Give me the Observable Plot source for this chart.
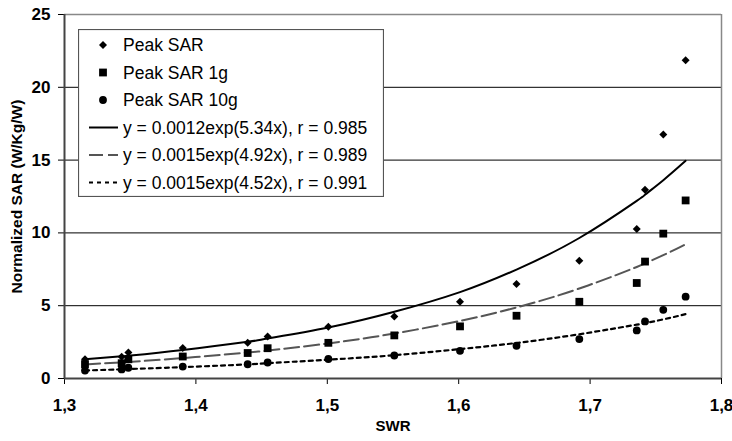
<!DOCTYPE html>
<html>
<head>
<meta charset="utf-8">
<script src="https://cdn.jsdelivr.net/npm/d3@7"></script>
<script src="https://cdn.jsdelivr.net/npm/@observablehq/plot@0.6"></script>
<style>
  html, body { margin: 0; padding: 0; background: white; }
  #wrap { position: relative; width: 732px; height: 441px; }
  #legend { position: absolute; left: 78px; top: 29px; }
</style>
</head>
<body>
<div id="wrap"></div>
<script>
// ---- data ----
const swr      = [1.3156, 1.3435, 1.3486, 1.390, 1.4394, 1.4546, 1.5008, 1.551, 1.601, 1.644, 1.6918, 1.7355, 1.7418, 1.7557, 1.7727];
const peakSAR  = [1.33, 1.50, 1.79, 2.10, 2.45, 2.89, 3.55, 4.26, 5.27, 6.49, 8.08, 10.27, 12.96, 16.75, 21.86];
const peak1g   = [0.99, 1.05, 1.32, 1.51, 1.75, 2.08, 2.45, 2.96, 3.58, 4.31, 5.27, 6.56, 8.03, 9.95, 12.23];
const peak10g  = [0.55, 0.62, 0.74, 0.82, 0.98, 1.10, 1.34, 1.58, 1.90, 2.25, 2.71, 3.30, 3.92, 4.72, 5.62];
// fitted trend curves, read at the same SWR positions
const trendSAR = [1.32, 1.52, 1.56, 1.96, 2.52, 2.74, 3.50, 4.58, 5.93, 7.48, 9.65, 12.20, 12.62, 13.62, 14.95];
const trend1g  = [0.97, 1.11, 1.14, 1.40, 1.79, 1.92, 2.41, 3.09, 3.95, 4.88, 6.18, 7.66, 7.91, 8.47, 9.22];
const trend10g = [0.55, 0.63, 0.65, 0.78, 0.97, 1.05, 1.29, 1.60, 2.02, 2.44, 3.04, 3.70, 3.80, 4.06, 4.42];
const seriesNames = ["Peak SAR", "Peak SAR 1g", "Peak SAR 10g"];
const fitLabels = ["y = 0.0012exp(5.34x), r = 0.985", "y = 0.0015exp(4.92x), r = 0.989", "y = 0.0015exp(4.52x), r = 0.991"];
const xTicks = [1.3, 1.4, 1.5, 1.6, 1.7, 1.8];
const yTicks = [0, 5, 10, 15, 20, 25];
const xTitle = "SWR";
const yTitle = "Normalized SAR (W/Kg/W)";

const rows = swr.map((x, i) => ({
  x, peak: peakSAR[i], p1: peak1g[i], p10: peak10g[i],
  t: trendSAR[i], t1: trend1g[i], t10: trend10g[i]
}));

const FONT = "Arial, 'Liberation Sans', sans-serif";
const symbols = ["diamond2", "square", "circle"];
const radii = [3.6, 4.4, 3.9];
const dashes = [null, "15,5", "4,4"];
const lineColors = ["black", "#555", "black"];

const chart = Plot.plot({
  width: 732,
  height: 441,
  marginLeft: 64,
  marginRight: 11,
  marginTop: 14,
  marginBottom: 63,
  style: { fontFamily: FONT, fontSize: "17px", fontWeight: "bold", background: "white", color: "black" },
  x: { domain: [1.3, 1.8], ticks: xTicks, tickFormat: d => d.toFixed(1).replace(".", ","), tickSize: 6, tickPadding: 14, label: null },
  y: { domain: [0, 25], ticks: yTicks, tickSize: 6, tickPadding: 8, label: null },
  marks: [
    Plot.ruleY(yTicks.filter(v => v > 0 && v < 25), { stroke: "black", strokeWidth: 1 }),
    Plot.ruleY([25], { stroke: "#888", strokeWidth: 1.5 }),
    Plot.ruleX([1.8], { stroke: "#888", strokeWidth: 1.5 }),
    Plot.ruleX([1.3], { stroke: "#444", strokeWidth: 2 }),
    Plot.ruleY([0], { stroke: "#444", strokeWidth: 2 }),
    Plot.line(rows, { x: "x", y: "t", stroke: lineColors[0], strokeWidth: 2, curve: "natural" }),
    Plot.line(rows, { x: "x", y: "t1", stroke: lineColors[1], strokeWidth: 2, strokeDasharray: dashes[1], curve: "natural" }),
    Plot.line(rows, { x: "x", y: "t10", stroke: lineColors[2], strokeWidth: 2.2, strokeDasharray: dashes[2], curve: "natural" }),
    Plot.dot(rows, { x: "x", y: "peak", symbol: symbols[0], r: radii[0], fill: "black", stroke: "none" }),
    Plot.dot(rows, { x: "x", y: "p1", symbol: symbols[1], r: radii[1], fill: "black", stroke: "none" }),
    Plot.dot(rows, { x: "x", y: "p10", symbol: symbols[2], r: radii[2], fill: "black", stroke: "none" }),
    Plot.text([xTitle], { frameAnchor: "bottom", dy: 52, text: d => d, textAnchor: "middle", fontSize: 15, fontWeight: "bold" }),
    Plot.text([yTitle], { frameAnchor: "left", dx: -47, rotate: -90, text: d => d, textAnchor: "middle", fontSize: 15.5, fontWeight: "bold" })
  ]
});

const wrap = document.getElementById("wrap");
wrap.appendChild(chart);

// ---- legend (inside plot, top-left) ----
const LW = 306, LH = 168;
const legend = d3.create("svg")
  .attr("id", "legend")
  .attr("width", LW).attr("height", LH)
  .style("font-family", FONT)
  .style("font-size", "17.5px");
legend.append("rect")
  .attr("x", 0.5).attr("y", 0.5).attr("width", LW - 1).attr("height", LH - 1)
  .attr("fill", "white").attr("stroke", "#555").attr("stroke-width", 1.2);
const rowY = i => 16 + i * 27.5;
seriesNames.forEach((name, i) => {
  const sym = { diamond2: d3.symbolDiamond2, square: d3.symbolSquare, circle: d3.symbolCircle }[symbols[i]];
  legend.append("path")
    .attr("d", d3.symbol(sym, Math.PI * radii[i] * radii[i])())
    .attr("transform", `translate(25,${rowY(i)})`)
    .attr("fill", "black");
  legend.append("text").attr("x", 45).attr("y", rowY(i)).attr("dy", "0.35em").text(name);
});
fitLabels.forEach((lab, j) => {
  const i = j + 3;
  legend.append("line")
    .attr("x1", 11).attr("x2", 40).attr("y1", rowY(i)).attr("y2", rowY(i))
    .attr("stroke", lineColors[j]).attr("stroke-width", 2)
    .attr("stroke-dasharray", j === 1 ? "14,5" : dashes[j]);
  legend.append("text").attr("x", 45).attr("y", rowY(i)).attr("dy", "0.35em").text(lab);
});
wrap.appendChild(legend.node());
</script>
</body>
</html>
